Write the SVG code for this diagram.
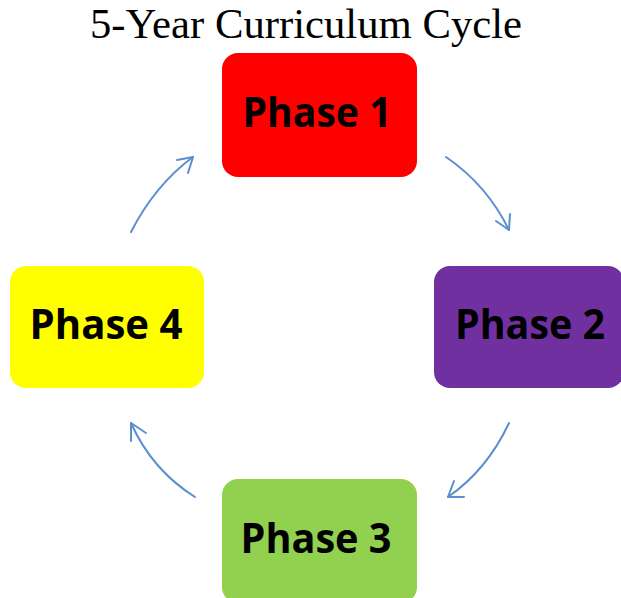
<svg xmlns="http://www.w3.org/2000/svg" width="621" height="598" viewBox="0 0 621 598">
<style>
.t{font-family:"Liberation Serif",serif;font-size:42.5px;fill:#000}
.lbl{font-family:"Open Sans","Noto Sans",sans-serif;font-weight:bold;font-size:41px;fill:#000;text-anchor:middle}
.c{fill:none;stroke:#5b8fd0;stroke-width:2;stroke-linecap:round;stroke-linejoin:round}
</style>
<rect width="621" height="598" fill="#fff"/>
<text class="t" x="90" y="38" textLength="432" lengthAdjust="spacingAndGlyphs">5-Year Curriculum Cycle</text>
<g id="phase1"><rect x="222" y="53" width="195" height="124" rx="16" fill="#ff0000"/><text class="lbl" x="317" y="127" textLength="149" lengthAdjust="spacingAndGlyphs">Phase 1</text></g>
<g id="phase2"><rect x="434" y="266" width="190" height="122" rx="16" fill="#7030a0"/><text class="lbl" x="530" y="339" textLength="150" lengthAdjust="spacingAndGlyphs">Phase 2</text></g>
<g id="phase3"><rect x="222" y="479" width="195" height="124" rx="16" fill="#92d050"/><text class="lbl" x="316" y="553" textLength="151" lengthAdjust="spacingAndGlyphs">Phase 3</text></g>
<g id="phase4"><rect x="10" y="266" width="194" height="122" rx="16" fill="#ffff00"/><text class="lbl" x="106" y="339" textLength="153" lengthAdjust="spacingAndGlyphs">Phase 4</text></g>
<g id="connectors">
<path class="c" d="M131 232 Q155 185 193 157"/><path class="c" d="M177 160 L193 157 L188 173"/>
<path class="c" d="M446 157 Q487 185 509 230"/><path class="c" d="M496 221 L509 230 L510 214"/>
<path class="c" d="M509 423 Q487 470 448 497"/><path class="c" d="M464 497 L448 497 L454 481"/>
<path class="c" d="M195 497 Q152 470 131 423"/><path class="c" d="M131 441 L131 423 L146 433"/>
</g>
</svg>
